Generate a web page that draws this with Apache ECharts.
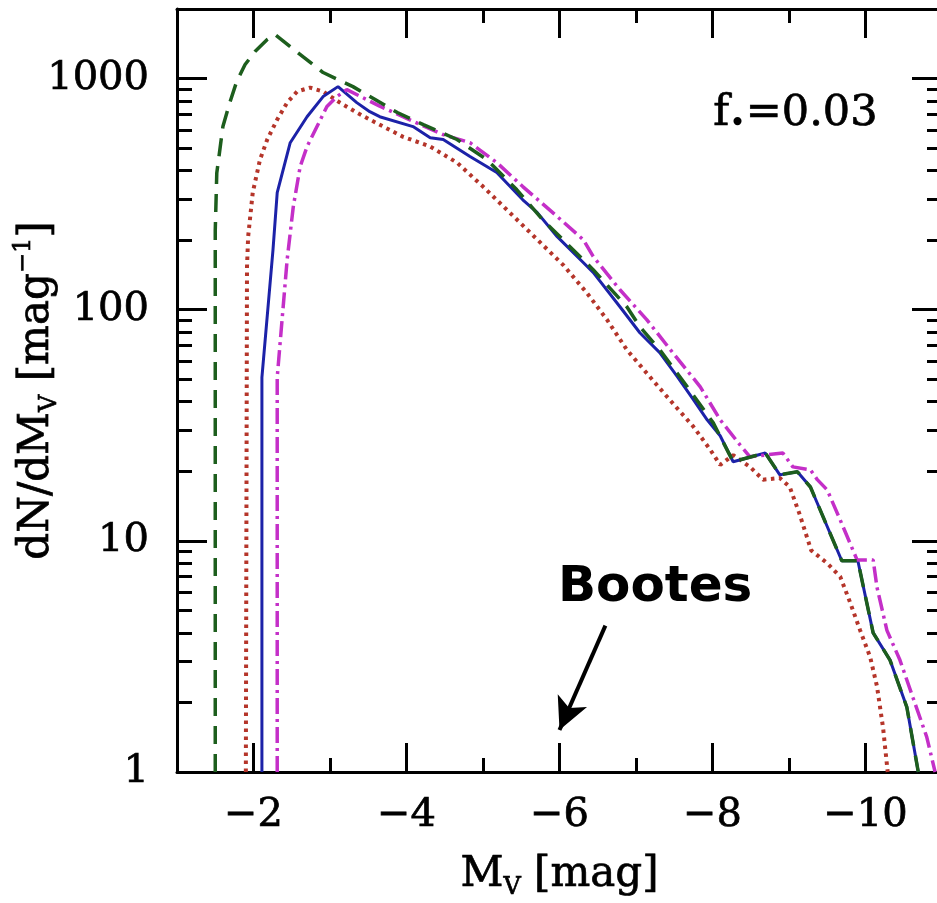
<!DOCTYPE html>
<html>
<head>
<meta charset="utf-8">
<script src="https://cdn.jsdelivr.net/npm/echarts@6/dist/echarts.min.js"></script>
<style>
  html, body { margin: 0; padding: 0; background: #fff; }
  #chart { width: 937px; height: 903px; }
</style>
</head>
<body>
<div id="chart"></div>
<script>
// tick values
const majorMag = [-2, -4, -6, -8, -10];
const minorMag = [-3, -5, -7, -9];
const majorN = [1, 10, 100, 1000];
const minorN = [2, 3, 4, 5, 6, 7, 8, 9, 20, 30, 40, 50, 60, 70, 80, 90,
  200, 300, 400, 500, 600, 700, 800, 900];

// red dotted curve
const redMag = [-1.90, -1.915, -1.93, -1.99, -2.085, -2.18, -2.31, -2.44, -2.57, -2.74,
  -2.91, -3.13, -3.35, -3.52, -3.95, -4.31, -4.66, -5.00, -5.35, -5.71, -6.05, -6.36,
  -6.62, -6.88, -7.18, -7.44, -7.75, -7.97, -8.10, -8.27, -8.49, -8.66, -8.88, -9.01,
  -9.14, -9.29, -9.50, -9.67, -9.80, -9.93, -10.06, -10.15, -10.23, -10.29];
const redN = [1, 153, 207, 321, 446, 545, 665, 787, 879, 914,
  879, 787, 713, 665, 561, 508, 433, 341, 263, 201, 156, 118,
  90.6, 67.1, 51.3, 40.8, 31.2, 24.8, 21.3, 23.5, 20.9, 18.4, 18.7, 17.1,
  13.0, 9.1, 8.0, 7.0, 5.4, 4.1, 3.15, 2.35, 1.55, 1];

// blue solid curve
const blueMag = [-2.11, -2.11, -2.255, -2.31, -2.48, -2.70, -2.91, -3.105, -3.35, -3.52,
  -3.65, -4.085, -4.31, -4.48, -4.83, -5.18, -5.52, -5.71, -5.97, -6.31, -6.44, -6.79,
  -7.05, -7.31, -7.54, -7.75, -7.93, -8.10, -8.27, -8.69, -8.88, -9.11, -9.28, -9.69,
  -9.90, -10.10, -10.32, -10.54, -10.69];
const blueN = [1, 51, 182, 321, 528, 684, 836, 923, 787, 719,
  684, 620, 555, 545, 460, 392, 299, 263, 207, 160, 145, 103,
  79.5, 65.2, 51.3, 40.8, 33.4, 28.5, 22.0, 24.0, 19.3, 19.9, 17.1, 8.2,
  8.2, 4.0, 3.05, 1.91, 1];

// magenta dash-dot curve
const magentaMag = [-2.31, -2.31, -2.44, -2.52, -2.61, -2.70, -2.83, -2.96, -3.09, -3.22,
  -3.65, -4.09, -4.48, -4.83, -5.18, -5.52, -5.97, -6.31, -6.44, -6.79, -7.14, -7.48,
  -7.84, -8.10, -8.36, -8.49, -8.92, -9.05, -9.28, -9.37, -9.50, -9.67, -9.89, -10.10,
  -10.15, -10.28, -10.45, -10.62, -10.80, -10.91];
const magentaN = [1, 51, 165, 279, 416, 508, 620, 757, 836, 896,
  760, 652, 572, 528, 433, 341, 253, 201, 170, 122, 90.6, 65.2,
  46.4, 33.4, 26.0, 23.1, 24.0, 20.9, 20.3, 18.4, 16.6, 12.3, 8.27, 8.27,
  6.3, 4.1, 3.05, 2.1, 1.42, 1];

// green dashed curve
const greenMag = [-1.50, -1.50, -1.52, -1.60, -1.69, -1.78, -1.89, -2.02, -2.18, -2.28,
  -2.91, -3.30, -3.59, -3.88, -4.22, -4.66, -5.05, -5.44, -5.78, -6.14, -6.44, -6.88,
  -7.05, -7.31, -7.67, -8.01, -8.27, -8.69, -8.88, -9.11, -9.28, -9.69, -9.90, -10.10,
  -10.32, -10.54, -10.69];
const greenN = [1, 220, 390, 620, 787, 971, 1150, 1309, 1475, 1550,
  1062, 923, 811, 713, 632, 545, 446, 331, 245, 187, 149, 103,
  84.4, 67.1, 46.4, 32.4, 22.0, 24.0, 19.3, 19.9, 17.1, 8.2, 8.2, 4.0,
  3.05, 1.91, 1];

// arrow pointing at Bootes
const arrowFrom = [-6.6, 4.3];
const arrowTo = [-6.0, 1.52];

const pairs = (xs, ys) => xs.map((x, i) => [x, ys[i]]);

const serif = '"DejaVu Serif", "Liberation Serif", serif';
const black = '#000';
// the scanned figure has slightly heavier glyphs
const heavy = { textBorderColor: black, textBorderWidth: 0.7 };

function magAxis(position, ticks, len, main) {
  return {
    type: 'value',
    position: position,
    inverse: true,
    min: -11,
    max: -1,
    name: main && position === 'bottom' ? '{a|M}{b|V}{a| [mag]}' : '',
    nameLocation: 'middle',
    nameGap: 78,
    nameMoveOverlap: false,
    nameTextStyle: {
      rich: {
        a: Object.assign({ fontFamily: serif, fontSize: 42, color: black, lineHeight: 50 }, heavy),
        b: Object.assign({ fontFamily: serif, fontSize: 24, color: black, lineHeight: 26, verticalAlign: 'bottom' }, heavy)
      }
    },
    axisLine: { show: main, onZero: false, lineStyle: { color: black, width: 3 } },
    axisTick: { inside: true, length: len, customValues: ticks, lineStyle: { color: black, width: 3 } },
    axisLabel: Object.assign({
      show: main && position === 'bottom',
      customValues: majorMag,
      margin: 24,
      fontFamily: serif,
      fontSize: 40,
      color: black,
      formatter: v => '\u2212' + Math.abs(v)
    }, heavy),
    splitLine: { show: false }
  };
}

function countAxis(position, ticks, len, main) {
  return {
    type: 'log',
    logBase: 10,
    position: position,
    min: 1,
    max: 2000,
    name: main && position === 'left' ? '{a|dN/dM}{b|V}{a| [mag}{c|\u22121}{a|]}' : '',
    nameLocation: 'middle',
    nameGap: 115,
    nameMoveOverlap: false,
    nameTextStyle: {
      rich: {
        a: Object.assign({ fontFamily: serif, fontSize: 42, color: black, lineHeight: 50 }, heavy),
        b: Object.assign({ fontFamily: serif, fontSize: 24, color: black, lineHeight: 26, verticalAlign: 'bottom' }, heavy),
        c: Object.assign({ fontFamily: serif, fontSize: 24, color: black, lineHeight: 26, verticalAlign: 'top' }, heavy)
      }
    },
    axisLine: { show: main, onZero: false, lineStyle: { color: black, width: 3 } },
    axisTick: { inside: true, length: len, customValues: ticks, lineStyle: { color: black, width: 3 } },
    axisLabel: Object.assign({
      show: main && position === 'left',
      customValues: majorN,
      margin: 28,
      fontFamily: serif,
      fontSize: 40,
      color: black,
      formatter: v => String(v)
    }, heavy),
    splitLine: { show: false }
  };
}

function curve(data, color, dash, width) {
  return {
    type: 'line',
    data: data,
    symbol: 'none',
    smooth: false,
    xAxisIndex: 0,
    yAxisIndex: 0,
    lineStyle: { color: color, width: width, type: dash },
    z: 3
  };
}

const chart = echarts.init(document.getElementById('chart'));

const redSeries = curve(pairs(redMag, redN), '#b5352a', [3.5, 4.5], 4);
redSeries.markLine = {
  silent: true,
  symbol: ['none', 'arrow'],
  symbolSize: [24, 32],
  label: { show: false },
  lineStyle: { color: black, width: 4, type: 'solid' },
  data: [[{ coord: arrowFrom }, { coord: arrowTo }]]
};

chart.setOption({
  animation: false,
  backgroundColor: '#fff',
  grid: { left: 177, right: -5, top: 9, bottom: 131, outerBoundsMode: 'none' },
  xAxis: [
    magAxis('bottom', majorMag, 29, true),
    magAxis('bottom', minorMag, 14, false),
    magAxis('top', majorMag, 29, true),
    magAxis('top', minorMag, 14, false)
  ],
  yAxis: [
    countAxis('left', majorN, 30, true),
    countAxis('left', minorN, 15, false),
    countAxis('right', majorN, 30, true),
    countAxis('right', minorN, 15, false)
  ],
  series: [
    redSeries,
    curve(pairs(blueMag, blueN), '#1c22a8', 'solid', 3),
    curve(pairs(magentaMag, magentaN), '#c42fc8', [16, 5, 3, 5], 3.5),
    curve(pairs(greenMag, greenN), '#1d5e1d', [18, 10], 3.5)
  ],
  graphic: [
    {
      type: 'text',
      left: 558,
      top: 563,
      style: { text: 'Bootes', font: 'bold 50px "DejaVu Sans", sans-serif', fill: black }
    },
    {
      type: 'text',
      left: 713,
      top: 92,
      style: {
        text: '{n|f}{s|\u2022}{n|=0.03}',
        rich: {
          n: { fontFamily: serif, fontSize: 43, fill: black, stroke: black, lineWidth: 0.7, lineHeight: 50 },
          s: { fontFamily: serif, fontSize: 28, fill: black, lineHeight: 26, verticalAlign: 'bottom' }
        }
      }
    }
  ]
});
</script>
</body>
</html>
